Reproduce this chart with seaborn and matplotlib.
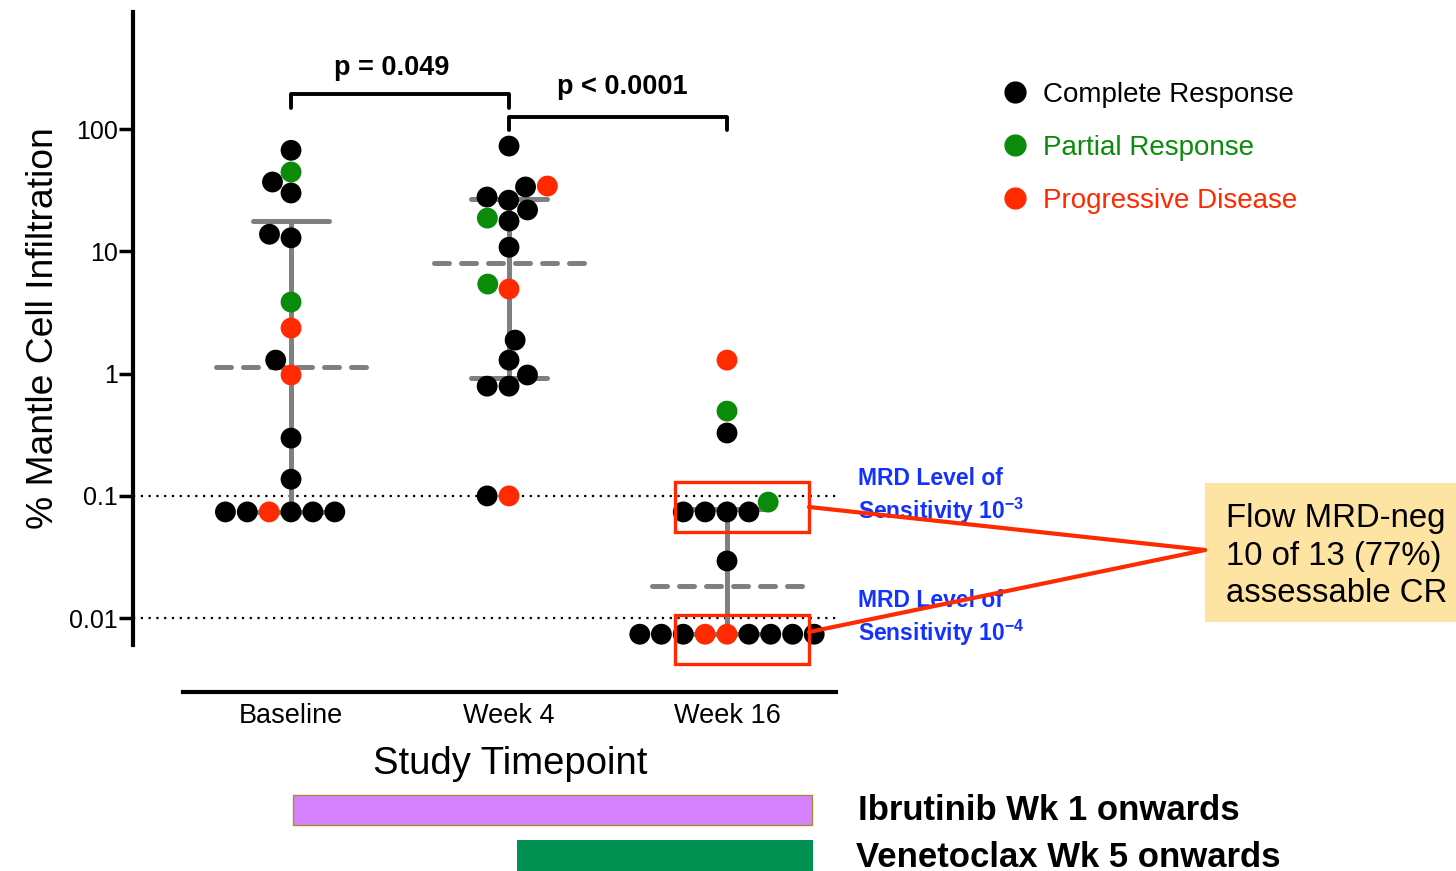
import numpy as np
import pandas as pd
import matplotlib
matplotlib.use("Agg")
import matplotlib.pyplot as plt
import seaborn as sns
from matplotlib.lines import Line2D
from matplotlib.patches import Rectangle

# ---------------- data ----------------
timepoints = ["Baseline", "Week 4", "Week 16"]
response_codes = ["CR", "PR", "PD"]
response_names = ["Complete Response", "Partial Response", "Progressive Disease"]
response_colors = ["#000000", "#0a8c0a", "#ff2a00"]

baseline_vals = [67, 44.5, 30, 36.9, 13.8, 12.9, 3.85, 2.36, 1.29, 0.975, 0.297, 0.137,
                 0.074, 0.074, 0.074, 0.074, 0.074, 0.074]
baseline_resp = ["CR", "PR", "CR", "CR", "CR", "CR", "PR", "PD", "CR", "PD", "CR", "CR",
                 "CR", "PD", "CR", "CR", "CR", "CR"]

week4_vals = [72.6, 33.6, 34.2, 26.2, 27.8, 21.8, 17.7, 18.7, 10.8, 5.4, 4.92, 1.88,
              1.29, 0.975, 0.79, 0.79, 0.1, 0.1]
week4_resp = ["CR", "CR", "PD", "CR", "CR", "CR", "CR", "PR", "CR", "PR", "PD", "CR",
              "CR", "CR", "CR", "CR", "CR", "PD"]

week16_vals = [1.29, 0.494, 0.327, 0.089, 0.074, 0.074, 0.074, 0.074, 0.0294,
               0.0074, 0.0074, 0.0074, 0.0074, 0.0074, 0.0074, 0.0074, 0.0074, 0.0074]
week16_resp = ["PD", "PR", "CR", "PR", "CR", "CR", "CR", "CR", "CR",
               "CR", "CR", "CR", "PD", "CR", "CR", "PD", "CR", "CR"]

ytick_vals = [0.01, 0.1, 1, 10, 100]
ytick_labels = ["0.01", "0.1", "1", "10", "100"]
mrd_levels = [0.1, 0.01]

pvals = ["p = 0.049", "p < 0.0001"]
box_text = "Flow MRD-neg\n10 of 13 (77%)\nassessable CR"
drug_labels = ["Ibrutinib Wk 1 onwards", "Venetoclax Wk 5 onwards"]

# ---------------- build table ----------------
df = pd.DataFrame({
    "timepoint": (["Baseline"] * len(baseline_vals) + ["Week 4"] * len(week4_vals)
                  + ["Week 16"] * len(week16_vals)),
    "value": baseline_vals + week4_vals + week16_vals,
    "response": baseline_resp + week4_resp + week16_resp,
})

sns.set_style("ticks")
plt.rcParams["font.family"] = ["Liberation Sans", "DejaVu Sans"]
plt.rcParams["mathtext.fontset"] = "custom"
plt.rcParams["mathtext.rm"] = "Liberation Sans"
plt.rcParams["mathtext.bf"] = "Liberation Sans:bold"
for k in ("text.color", "axes.labelcolor", "xtick.color", "ytick.color", "axes.edgecolor"):
    plt.rcParams[k] = "black"

W, H = 1456, 871
fig = plt.figure(figsize=(W / 100, H / 100), dpi=100)
ax = fig.add_axes([133 / W, 1 - 645 / H, 703 / W, 633 / H])

def fx(px):
    return px / W

def fy(py):
    return 1 - py / H

ax.set_yscale("log")
ax.set_ylim(0.00604, 906)
ax.set_xlim(-0.725, 2.5)

palette = dict(zip(response_codes, response_colors))
sns.swarmplot(data=df, x="timepoint", y="value", hue="response", order=timepoints,
              hue_order=response_codes, palette=palette, size=15, linewidth=0,
              legend=False, ax=ax, zorder=3, warn_thresh=1)

ax.set_yscale("log")
ax.set_ylim(0.00604, 906)
ax.set_xlim(-0.725, 2.5)

# ---------------- median / IQR ----------------
gray = "#808080"
for i, vals in enumerate([baseline_vals, week4_vals, week16_vals]):
    q1, med, q3 = np.percentile(vals, [25, 50, 75], method="weibull")
    ax.plot([i, i], [q1, q3], color=gray, lw=3.6, zorder=1, solid_capstyle="round")
    for q in (q1, q3):
        ax.plot([i - 0.175, i + 0.175], [q, q], color=gray, lw=3.6, zorder=1,
                solid_capstyle="round")
    ax.plot([i - 0.345, i + 0.345], [med, med], color=gray, lw=3.6, zorder=1,
            ls=(0, (3, 2.4)), dash_capstyle="round")

# ---------------- MRD dotted lines ----------------
for lvl in mrd_levels:
    ax.axhline(lvl, color="black", lw=1.6, ls=(0, (1, 2.5)), zorder=0.5)

# ---------------- significance brackets ----------------
ax.plot([0, 0, 1, 1], [148, 193, 193, 148], color="black", lw=2.8, clip_on=False)
ax.plot([1, 1, 2, 2], [98, 125, 125, 98], color="black", lw=2.8, clip_on=False)
ax.text(0.46, 315, pvals[0], ha="center", va="center", fontsize=19.5, fontweight="bold")
ax.text(1.52, 220, pvals[1], ha="center", va="center", fontsize=19.5, fontweight="bold")

# ---------------- red boxes ----------------
red = "#ff2a00"
ax.add_patch(Rectangle((1.761, 0.0507), 0.615, 0.130 - 0.0507, fill=False, ec=red,
                       lw=2.4, clip_on=False, zorder=4))
ax.add_patch(Rectangle((1.761, 0.00423), 0.615, 0.0106 - 0.00423, fill=False, ec=red,
                       lw=2.4, clip_on=False, zorder=4))

# ---------------- axes styling ----------------
for s in ("top", "right"):
    ax.spines[s].set_visible(False)
ax.spines["left"].set_linewidth(3)
ax.spines["bottom"].set_linewidth(3)
ax.spines["bottom"].set_position(("outward", 34))
ax.spines["bottom"].set_bounds(-0.495, 2.5)
ax.set_yticks(ytick_vals)
ax.set_yticklabels(ytick_labels)
ax.yaxis.set_minor_locator(matplotlib.ticker.NullLocator())
ax.tick_params(axis="y", direction="out", length=10, width=2.5, labelsize=18, pad=1)
ax.tick_params(axis="x", length=0, labelsize=19.5, pad=8)
ax.set_xlabel("Study Timepoint", fontsize=27.5, labelpad=12)
ax.xaxis.label.set_x((510 - 133) / 703)
ax.set_ylabel("% Mantle Cell Infiltration", fontsize=26.8, labelpad=6)

# ---------------- legend ----------------
handles = [Line2D([0], [0], marker="o", ls="", color=c, markersize=15) for c in response_colors]
fig.legend(handles, response_names, loc="upper left", bbox_to_anchor=(fx(1001), fy(82)),
           frameon=False, fontsize=20, labelcolor=response_colors, handlelength=1,
           handletextpad=0.5, labelspacing=0.97, borderpad=0, borderaxespad=0)

# ---------------- MRD labels ----------------
blue = "#1432ff"
mfs = 16.5
fig.text(fx(858), fy(478), "MRD Level of", color=blue, fontsize=mfs, fontweight="bold",
         va="center", ha="left")
fig.text(fx(858), fy(511), r"Sensitivity 10$^{\mathbf{-3}}$", color=blue, fontsize=mfs,
         fontweight="bold", va="center", ha="left")
fig.text(fx(858), fy(600), "MRD Level of", color=blue, fontsize=mfs, fontweight="bold",
         va="center", ha="left")
fig.text(fx(858), fy(633), r"Sensitivity 10$^{\mathbf{-4}}$", color=blue, fontsize=mfs,
         fontweight="bold", va="center", ha="left")

# ---------------- callout ----------------
fig.add_artist(Line2D([fx(809), fx(1205)], [fy(507), fy(550)], color=red, lw=3,
                      transform=fig.transFigure, zorder=5))
fig.add_artist(Line2D([fx(809), fx(1205)], [fy(632), fy(550)], color=red, lw=3,
                      transform=fig.transFigure, zorder=5))
fig.add_artist(Rectangle((fx(1205), fy(622)), fx(251), 139 / H, fc="#fde4a2", ec="none",
                         transform=fig.transFigure, zorder=4))
fig.text(fx(1226), fy(556), box_text, fontsize=23.7, va="center", ha="left",
         linespacing=1.27, zorder=6)

# ---------------- drug bars ----------------
fig.add_artist(Rectangle((fx(293), fy(825)), fx(519), 30 / H, fc="#d682ff", ec="#a09030",
                         lw=1, transform=fig.transFigure))
fig.add_artist(Rectangle((fx(517), fy(871)), fx(296), 31 / H, fc="#009052", ec="none",
                         transform=fig.transFigure))
fig.text(fx(858), fy(810), drug_labels[0], fontsize=25, fontweight="bold", va="center",
         ha="left")
fig.text(fx(856), fy(857), drug_labels[1], fontsize=25, fontweight="bold", va="center",
         ha="left")

fig.savefig("out.png", dpi=100)
